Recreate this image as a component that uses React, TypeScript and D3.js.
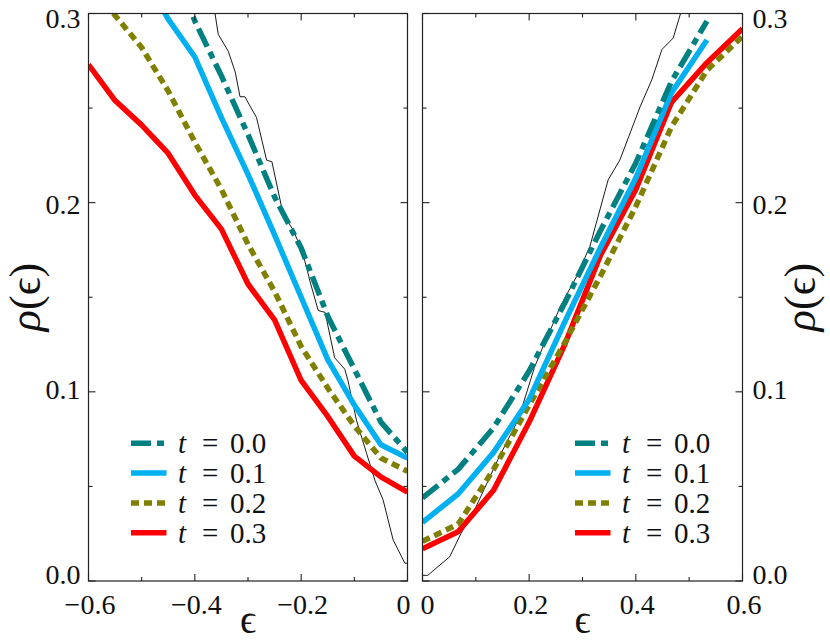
import React from 'react';
import * as d3 from 'd3';

// epsilon grids
const epsLeft = [-0.6, -0.55, -0.5, -0.45, -0.4, -0.35, -0.3, -0.25, -0.2, -0.15, -0.1, -0.05, 0];
const epsRight = [0, 0.0667, 0.1333, 0.2, 0.2667, 0.3333, 0.4, 0.4667, 0.5333, 0.6];

// rho(eps) for each t, left branch
const t0Left = [null, null, null, 0.33, 0.296, 0.267, 0.236, 0.203, 0.176, 0.14, 0.112, 0.084, 0.068];
const t1Left = [null, null, 0.322, 0.297, 0.277, 0.245, 0.215, 0.183, 0.15, 0.117, 0.093, 0.072, 0.065];
const t2Left = [0.316, 0.299, 0.282, 0.259, 0.232, 0.207, 0.178, 0.153, 0.124, 0.102, 0.082, 0.065, 0.058];
const t3Left = [0.273, 0.254, 0.241, 0.226, 0.204, 0.186, 0.157, 0.138, 0.106, 0.087, 0.066, 0.055, 0.047];

// right branch
const t0Right = [0.044, 0.059, 0.081, 0.111, 0.147, 0.185, 0.221, 0.264, 0.296, null];
const t1Right = [0.031, 0.046, 0.068, 0.096, 0.137, 0.176, 0.213, 0.258, 0.286, null];
const t2Right = [0.021, 0.03, 0.059, 0.093, 0.126, 0.161, 0.198, 0.24, 0.27, 0.288];
const t3Right = [0.017, 0.026, 0.048, 0.084, 0.125, 0.172, 0.207, 0.253, 0.274, 0.292];

// thin black reference curve
const refLeftEps = [-0.366, -0.362, -0.356, -0.337, -0.324, -0.315, -0.306, -0.284, -0.265, -0.255, -0.234, -0.215, -0.199, -0.19, -0.184, -0.168, -0.155, -0.137, -0.118, -0.112, -0.096, -0.077, -0.061, -0.046, -0.027, -0.011, -0.005, 0];
const refLeftRho = [0.31, 0.3, 0.289, 0.28, 0.269, 0.256, 0.256, 0.245, 0.2225, 0.2216, 0.194, 0.1855, 0.175, 0.166, 0.159, 0.143, 0.142, 0.118, 0.112, 0.106, 0.085, 0.0675, 0.053, 0.043, 0.0217, 0.0128, 0.0094, 0.0094];
const refRightEps = [0, 0.01, 0.029, 0.051, 0.072, 0.1, 0.141, 0.179, 0.191, 0.21, 0.229, 0.248, 0.258, 0.289, 0.314, 0.348, 0.37, 0.408, 0.43, 0.449, 0.47, 0.486];
const refRightRho = [0.003, 0.003, 0.0076, 0.0128, 0.025, 0.039, 0.064, 0.085, 0.0957, 0.113, 0.126, 0.138, 0.145, 0.161, 0.177, 0.212, 0.2225, 0.2507, 0.265, 0.281, 0.287, 0.302];

const tLabels = ['0.0', '0.1', '0.2', '0.3'];

// ticks
const xMajorLeft = [-0.6, -0.4, -0.2, 0];
const xMinorLeft = [-0.5, -0.3, -0.1];
const xMajorRight = [0, 0.2, 0.4, 0.6];
const xMinorRight = [0.1, 0.3, 0.5];
const yMajor = [0, 0.1, 0.2, 0.3];
const yMinor = [0.05, 0.15, 0.25];

const W = 830;
const H = 642;
const TOP = 13.5;
const BOTTOM = 581;

const styles = [
  { color: '#008080', dash: '20,6,7,6' },
  { color: '#00b0f0', dash: 'none' },
  { color: '#808000', dash: '8,5' },
  { color: '#ff0000', dash: 'none' },
];

const formatTick = (v: number) => (v === 0 ? '0' : (v < 0 ? '\u2212' : '') + Math.abs(v).toFixed(1));

const y = d3.scaleLinear().domain([0, 0.3]).range([BOTTOM, TOP]);
// tick labels sit slightly pulled in from the ends
const yLabel = d3.scaleLinear().domain([0, 0.3]).range([575, 19]);
const legendY = d3.scaleLinear().domain([0, 3]).range([443.3, 532.7]);

const panels = [
  {
    id: 'L', x0: 88.5, x1: 407.5, domain: [-0.6, 0], eps: epsLeft,
    series: [t0Left, t1Left, t2Left, t3Left],
    refEps: refLeftEps, refRho: refLeftRho,
    xMajor: xMajorLeft, xMinor: xMinorLeft,
    side: 'left', legendX: 131, yTitleX: 40,
  },
  {
    id: 'R', x0: 422.5, x1: 742.5, domain: [0, 0.6], eps: epsRight,
    series: [t0Right, t1Right, t2Right, t3Right],
    refEps: refRightEps, refRho: refRightRho,
    xMajor: xMajorRight, xMinor: xMinorRight,
    side: 'right', legendX: 575, yTitleX: 815,
  },
];

// serif text, set right on each <text>
function T(props: any) {
  const { size, children, ...rest } = props;
  return (
    <text {...rest} fontSize={size} fill="#111" fontFamily="serif" style={{ fontFamily: 'serif' }}>
      {children}
    </text>
  );
}

function Panel({ p }: { p: typeof panels[number] }) {
  const x = d3.scaleLinear().domain(p.domain).range([p.x0, p.x1]);

  const refLine = d3.line<number>()
    .x((_, i) => x(p.refEps[i]))
    .y((d) => y(d));

  const seriesLine = d3.line<number | null>()
    .defined((d) => d !== null)
    .x((_, i) => x(p.eps[i]))
    .y((d) => y(d as number));

  const xt = [...p.xMajor.map((v) => [v, 7]), ...p.xMinor.map((v) => [v, 4])];
  const yt = [...yMajor.map((v) => [v, 7]), ...yMinor.map((v) => [v, 4])];

  return (
    <g>
      <defs>
        <clipPath id={`clip${p.id}`}>
          <rect x={p.x0} y={TOP} width={p.x1 - p.x0} height={BOTTOM - TOP} />
        </clipPath>
      </defs>
      <g clipPath={`url(#clip${p.id})`}>
        <path d={refLine(p.refRho) ?? ''} fill="none" stroke="#000" strokeWidth={0.9} />
        {/* t=0.3 first so t=0.0 ends on top */}
        {[3, 2, 1, 0].map((k) => (
          <path
            key={k}
            d={seriesLine(p.series[k]) ?? ''}
            fill="none"
            stroke={styles[k].color}
            strokeWidth={5.5}
            strokeLinejoin="round"
            strokeDasharray={styles[k].dash}
          />
        ))}
      </g>

      <rect x={p.x0} y={TOP} width={p.x1 - p.x0} height={BOTTOM - TOP} fill="none" stroke="#222" strokeWidth={1.2} />

      <g stroke="#222" strokeWidth={1.1}>
        {xt.map(([v, len]) => (
          <g key={`x${v}`}>
            <line x1={x(v)} x2={x(v)} y1={BOTTOM} y2={BOTTOM - len} />
            <line x1={x(v)} x2={x(v)} y1={TOP} y2={TOP + len} />
          </g>
        ))}
        {yt.map(([v, len]) => (
          <g key={`y${v}`}>
            <line x1={p.x0} x2={p.x0 + len} y1={y(v)} y2={y(v)} />
            <line x1={p.x1} x2={p.x1 - len} y1={y(v)} y2={y(v)} />
          </g>
        ))}
      </g>

      {p.xMajor.map((v) => {
        let dx = 1.5;
        if (v === 0) dx = p.side === 'left' ? -4 : 5;
        return (
          <T key={`xl${v}`} x={x(v) + dx} y={613.5} textAnchor="middle" size={28}>
            {formatTick(v)}
          </T>
        );
      })}
      {yMajor.map((v) => (
        <T
          key={`yl${v}`}
          x={p.side === 'left' ? p.x0 - 8 : p.x1 + 10}
          y={yLabel(v)}
          dy="0.33em"
          textAnchor={p.side === 'left' ? 'end' : 'start'}
          size={28}
        >
          {v.toFixed(1)}
        </T>
      ))}

      <T x={(p.x0 + p.x1) / 2} y={633} textAnchor="middle" size={40}>{'\u03f5'}</T>

      <T transform={`translate(${p.yTitleX},297) rotate(-90)`} textAnchor="middle" size={44}>
        <tspan fontStyle="italic">{'\u03c1'}</tspan>
        <tspan>{'(\u03f5)'}</tspan>
      </T>

      {tLabels.map((lab, k) => {
        const ly = legendY(k);
        return (
          <g key={`lg${k}`}>
            <line
              x1={p.legendX}
              x2={p.legendX + 35.5}
              y1={ly}
              y2={ly}
              stroke={styles[k].color}
              strokeWidth={5.5}
              strokeDasharray={styles[k].dash}
            />
            <T y={ly + 10} size={29}>
              <tspan x={p.legendX + 47} fontStyle="italic">t</tspan>
              <tspan x={p.legendX + 71}>=</tspan>
              <tspan x={p.legendX + 99}>{lab}</tspan>
            </T>
          </g>
        );
      })}
    </g>
  );
}

export default function App() {
  return (
    <svg width={W} height={H} fontFamily="serif" style={{ position: 'absolute', left: 0, top: 0, background: '#fff' }}>
      {panels.map((p) => (
        <Panel key={p.id} p={p} />
      ))}
    </svg>
  );
}
